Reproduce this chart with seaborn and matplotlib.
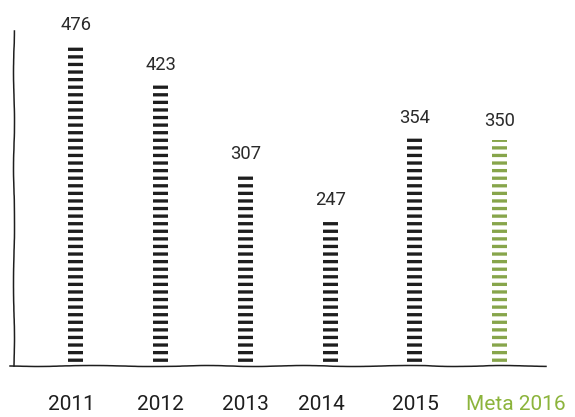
import matplotlib
matplotlib.use("Agg")
import pandas as pd
import matplotlib.pyplot as plt
import matplotlib.transforms as mtrans
import seaborn as sns

# chart data
years = ['2011', '2012', '2013', '2014', '2015', 'Meta 2016']
values = [476, 423, 307, 247, 354, 350]
colors = ['#1e1e1e', '#1e1e1e', '#1e1e1e', '#1e1e1e', '#1e1e1e', '#8cb43c']
label_colors = ['#1e1e1e', '#1e1e1e', '#1e1e1e', '#1e1e1e', '#1e1e1e', '#8cb43c']

df = pd.DataFrame({'year': years, 'value': values})

sns.set_style('white')
plt.rcParams['font.family'] = ['Roboto', 'DejaVu Sans']
plt.rcParams['hatch.linewidth'] = 2.6

dpi = 91
fig = plt.figure(figsize=(575 / dpi, 418 / dpi), dpi=dpi)
ax = fig.add_axes([14 / 575, 1 - 367 / 418, 532 / 575, 335 / 418])

sns.barplot(data=df, x='year', y='value', hue='year', palette=colors,
            width=0.177, legend=False, ax=ax)

# turn the solid bars into stacks of dashes
for patch in ax.patches:
    c = patch.get_facecolor()
    patch.set_facecolor('none')
    patch.set_edgecolor(c)
    patch.set_hatch('--')
    patch.set_linewidth(0)

# value labels
for i, v in enumerate(values):
    ax.annotate(str(v), (i, v), xytext=(0, 9), textcoords='offset points',
                ha='center', va='bottom', fontsize=14.5, color='#2a2a2a')

ax.set_ylim(55, 493)
ax.set_xlim(-0.729, 5.545)
ax.set_xlabel('')
ax.set_ylabel('')
ax.set_yticks([])
ax.tick_params(axis='x', length=0, pad=22, labelsize=16.5)

# labels sit a bit off the bars in the original
nudges = [-4, 0, 0, -9, 0, 16]
for lbl, c, dx in zip(ax.get_xticklabels(), label_colors, nudges):
    lbl.set_color(c)
    lbl.set_transform(lbl.get_transform() +
                      mtrans.ScaledTranslation(dx / dpi, 0, fig.dpi_scale_trans))

# hand drawn looking axes
sns.despine(ax=ax, top=True, right=True)
for side in ['left', 'bottom']:
    ax.spines[side].set_color('#1e1e1e')
    ax.spines[side].set_linewidth(1.2)
    ax.spines[side].set_sketch_params(scale=0.5, length=150, randomness=4)
ax.spines['bottom'].set_bounds(-0.776, 5.545)

plt.savefig('out.png', dpi=dpi)
